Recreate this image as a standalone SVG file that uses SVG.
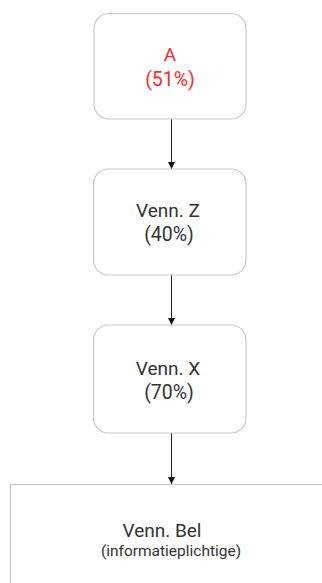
<svg xmlns="http://www.w3.org/2000/svg" width="322" height="583" viewBox="0 0 322 583">
<defs>
<style>
.box{fill:#fff;stroke:#c8c8c8;stroke-width:1.2}
.t{font-family:Roboto,"Liberation Sans",sans-serif;font-size:19px;fill:#333;text-anchor:middle}
.p{font-size:19.5px}
.red{fill:#ff2a2a}
.s{font-size:15.5px}
.c{stroke:#222;stroke-width:1;fill:none;marker-end:url(#ah)}
</style>
<marker id="ah" viewBox="0 0 8 8" refX="8" refY="4" markerWidth="7" markerHeight="7" markerUnits="userSpaceOnUse" orient="auto">
<path d="M0,0 L8,4 L0,8 z" fill="#111"/>
</marker>
</defs>
<rect width="322" height="583" fill="#fff"/>
<g id="connectors">
<line class="c" x1="171.5" y1="119" x2="171.5" y2="169"/>
<line class="c" x1="171.5" y1="275" x2="171.5" y2="325"/>
<line class="c" x1="171.5" y1="433" x2="171.5" y2="484"/>
</g>
<g id="nodeA">
<rect class="box" x="94" y="13.5" width="152" height="105.5" rx="15"/>
<text class="t red" x="170" y="61">A</text>
<text class="t p red" x="170" y="86">(51%)</text>
</g>
<g id="nodeZ">
<rect class="box" x="93.5" y="169" width="152.5" height="106" rx="15"/>
<text class="t" x="168" y="217">Venn. Z</text>
<text class="t p" x="169" y="241">(40%)</text>
</g>
<g id="nodeX">
<rect class="box" x="93.5" y="325" width="152.5" height="108" rx="15"/>
<text class="t" x="168" y="375">Venn. X</text>
<text class="t p" x="169" y="399">(70%)</text>
</g>
<g id="nodeBel">
<rect class="box" x="10.5" y="484.5" width="340" height="150"/>
<text class="t" x="162" y="537">Venn. Bel</text>
<text class="t s" x="171" y="556">(informatieplichtige)</text>
</g>
</svg>
